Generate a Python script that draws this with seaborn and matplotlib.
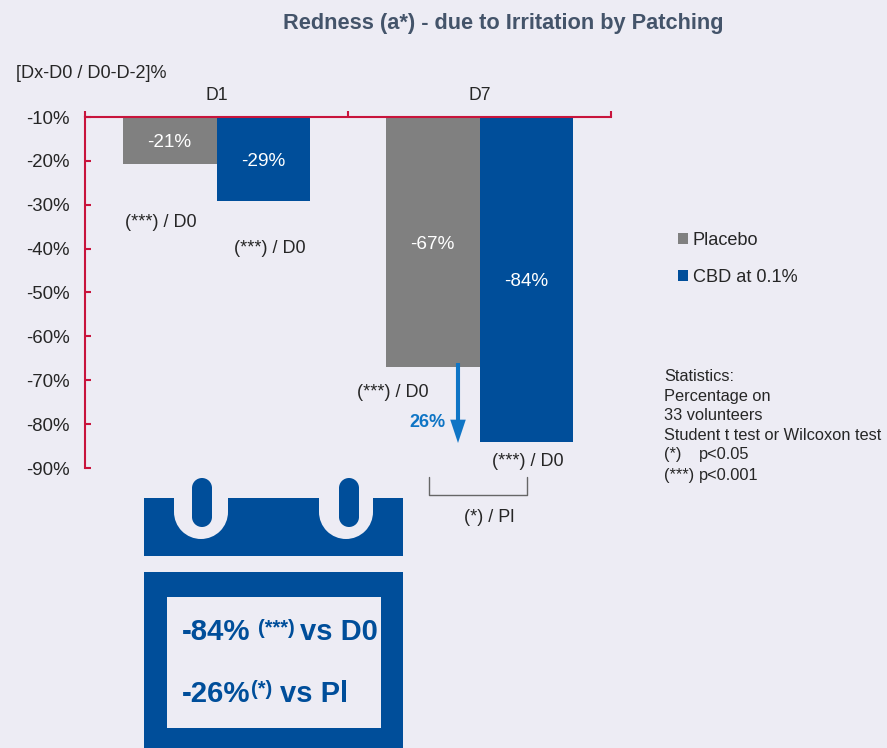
import pandas as pd
import matplotlib.pyplot as plt
import seaborn as sns
from matplotlib.patches import Rectangle, Circle
from matplotlib.transforms import Affine2D

W, H = 887, 748
BG = '#EDECF4'
BLUE = '#004E9A'
GREY = '#808080'
RED = '#C8143C'
DARK = '#262626'

days = ['D1', 'D7']
placebo = [-20.8, -67]
cbd = [-29.2, -84.1]
products = ['Placebo', 'CBD at 0.1%']
y_ticks = [-10, -20, -30, -40, -50, -60, -70, -80, -90]
stats_lines = ['Statistics:', 'Percentage on', '33 volunteers', 'Student t test or Wilcoxon test']

sns.set_theme(style='white')
plt.rcParams['font.family'] = ['Liberation Sans', 'DejaVu Sans']

df = pd.DataFrame({
    'day': days * 2,
    'product': [products[0]] * 2 + [products[1]] * 2,
    'value': placebo + cbd,
})

fig = plt.figure(figsize=((W + 0.01) / 100, (H + 0.01) / 100), dpi=100, facecolor=BG)
ax = fig.add_axes([85 / W, 1 - 468 / H, 526 / W, 351 / H], facecolor=BG)
# pixels of the picture, y going down
px = Affine2D().scale(1, -1).translate(0, H)

sns.barplot(data=df, x='day', y='value', hue='product', order=days, hue_order=products,
            palette=[GREY, BLUE], width=0.714, gap=0, saturation=1, errorbar=None, ax=ax,
            linewidth=0)
ax.set_ylim(-90, -10)
ax.set_xlim(-0.5, 1.5)
ax.set_xlabel('')
ax.set_ylabel('')

for s in ['right', 'bottom']:
    ax.spines[s].set_visible(False)
for s in ['left', 'top']:
    ax.spines[s].set_color(RED)
    ax.spines[s].set_linewidth(1.5)

ax.set_yticks(y_ticks)
ax.set_yticklabels([f'{v}%' for v in y_ticks], fontsize=13.4, color=DARK)
ax.tick_params(axis='y', direction='in', length=4, width=1.5, color=RED, pad=11, left=True)
ax.xaxis.tick_top()
ax.tick_params(axis='x', which='major', length=0, pad=9.5, labelsize=12.7, labelcolor=DARK)
ax.set_xticks([-0.5, 0.5, 1.5], minor=True)
ax.tick_params(axis='x', which='minor', direction='out', length=4, width=1.5, color=RED, top=True)

# value labels inside the bars
for container, vals in zip(ax.containers, [placebo, cbd]):
    for bar, v in zip(container, vals):
        ax.text(bar.get_x() + bar.get_width() / 2, (v - 10) / 2 - 0.5, f'{v:.0f}%', color='white',
                ha='center', va='center', fontsize=13.6)

leg = ax.legend(loc='center left', bbox_to_anchor=(678, 259), bbox_transform=px, frameon=False,
                fontsize=13.1, handlelength=0.55, handleheight=0.55, handletextpad=0.25,
                labelspacing=1.12, labelcolor=DARK, borderpad=0, borderaxespad=0)


def txt(x, y, s, size=13, color=DARK, **kw):
    kw.setdefault('va', 'center')
    fig.text(x, y, s, transform=px, fontsize=size, color=color, **kw)


txt(503.5, 23, 'Redness (a*) - due to Irritation by Patching', size=15.7, color='#44546A',
    weight='bold', ha='center')
txt(16, 73, '[Dx-D0 / D0-D-2]%', size=13.1)

txt(125, 222, '(***) / D0')
txt(234, 248, '(***) / D0')
txt(357, 392, '(***) / D0')
txt(492, 461, '(***) / D0')
txt(464, 517, '(*) / Pl')
txt(409, 422, '26%', size=13, color='#0F75C5', weight='bold')

for y, line in zip([376, 396, 415, 435], stats_lines):
    txt(664, y, line, size=11.8)
txt(664, 454, '(*)', size=11.8)
txt(699, 454, 'p<0.05', size=11.8)
txt(664, 475, '(***)', size=11.8)
txt(699, 475, 'p<0.001', size=11.8)

# arrow and bracket
fig.add_artist(plt.Annotation('', xy=(458, 443), xytext=(458, 363), xycoords=px, textcoords=px,
                              arrowprops=dict(arrowstyle='simple,head_length=1.2,head_width=0.8,tail_width=0.21',
                                              mutation_scale=14, color='#0F75C5', lw=0,
                                              shrinkA=0, shrinkB=0)))
fig.add_artist(plt.Line2D([429, 429, 527, 527], [477, 495, 495, 477], transform=px,
                          color='#666666', lw=1))


def box(x0, y0, x1, y1, color):
    fig.add_artist(Rectangle((x0, y0), x1 - x0, y1 - y0, transform=px, facecolor=color, lw=0))


def disc(cx, cy, r, color):
    fig.add_artist(Circle((cx, cy), r, transform=px, facecolor=color, lw=0))


# calendar
box(144, 498, 403, 556, BLUE)
box(144, 572, 403, 748, BLUE)
box(167, 597, 381, 728, BG)
for cx, notch in [(202, 201), (349, 346)]:
    box(notch - 27, 490, notch + 27, 512, BG)
    disc(notch, 512, 27, BG)
    box(cx - 10, 488, cx + 10, 517, BLUE)
    disc(cx, 488, 10, BLUE)
    disc(cx, 517, 10, BLUE)

txt(182, 632, '-84%', size=21.2, color=BLUE, weight='bold')
txt(258, 628, '(***)', size=14.5, color=BLUE, weight='bold')
txt(300, 632, 'vs D0', size=21, color=BLUE, weight='bold')
txt(182, 694, '-26%', size=21.2, color=BLUE, weight='bold')
txt(251, 689, '(*)', size=14.5, color=BLUE, weight='bold')
txt(280, 694, 'vs Pl', size=21, color=BLUE, weight='bold')

fig.savefig('out.png', dpi=100, facecolor=BG)
